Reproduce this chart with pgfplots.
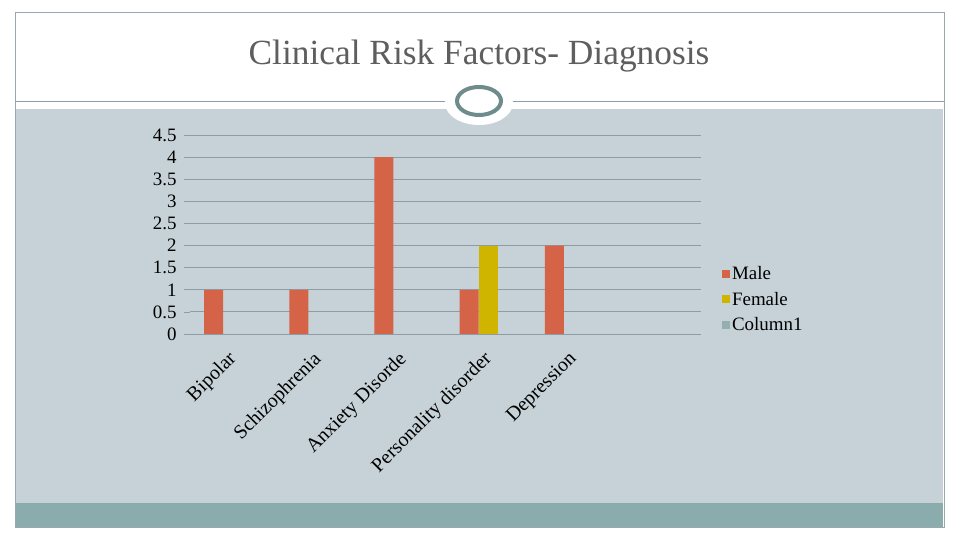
\documentclass[border=0pt]{standalone}
\usepackage{pgfplots}
\pgfplotsset{compat=1.18}
\usepackage{fontspec}
\setmainfont{Liberation Serif}
\definecolor{panel}{HTML}{C6D2D8}
\definecolor{strip}{HTML}{8AACAD}
\definecolor{frame}{HTML}{9AA8AE}
\definecolor{gridc}{HTML}{8E9CA4}
\definecolor{ovalc}{HTML}{6E8C8C}
\definecolor{male}{HTML}{D46348}
\definecolor{female}{HTML}{D0B500}
\definecolor{colone}{HTML}{93AFB0}
\definecolor{titlec}{HTML}{5E5E5E}
\begin{document}
\begin{tikzpicture}[x=1bp,y=1bp]
% slide background
\fill[white] (0,0) rectangle (960,540);
\fill[panel] (16,37) rectangle (943,431);
\fill[strip] (16,13) rectangle (943,37);
\draw[frame,line width=0.8bp] (15,13) rectangle (944,528);
\draw[gridc,line width=0.8bp] (15,439) -- (944,439);
\fill[white] (479,437) ellipse (34bp and 22bp);
\draw[ovalc,line width=4bp] (479,439) ellipse (22bp and 14bp);
\node[font=\fontsize{35.5}{35.5}\selectfont,text=titlec] at (479,484) {Clinical Risk Factors- Diagnosis};

\begin{axis}[
    at={(190bp,206bp)}, anchor=origin,
    scale only axis,
    width=511bp, height=199bp,
    xmin=0, xmax=6,
    ymin=0, ymax=4.5,
    ytick={0,0.5,...,4.5},
    yticklabels={0,0.5,1,1.5,2,2.5,3,3.5,4,4.5},
    xtick={0.5,1.5,2.5,3.5,4.5},
    xticklabels={Bipolar,Schizophrenia,Anxiety Disorde,Personality disorder,Depression},
    extra x ticks={0,1,2,3,4,5,6},
    extra x tick labels={},
    extra x tick style={major tick length=6bp, tick style={gridc}, grid=none},
    major x tick style={draw=none},
    xtick pos=bottom, ytick pos=left,
    tick align=outside,
    major tick length=6bp,
    tick style={gridc, line width=0.7bp},
    ymajorgrids,
    grid style={gridc, line width=0.8bp},
    axis line style={gridc, line width=0.8bp},
    axis x line*=bottom,
    axis y line*=left,
    y axis line style={draw=none},
    xticklabel style={rotate=45, anchor=north east, font=\fontsize{20}{20}\selectfont, inner sep=1bp, xshift=-10bp, yshift=-2bp},
    yticklabel style={font=\fontsize{19}{19}\selectfont, xshift=-4bp},
    ybar,
    bar width=19bp,
    legend style={at={(axis description cs:1.035,0.36)}, anchor=north west, draw=none, fill=none,
        font=\fontsize{19}{19}\selectfont, row sep=7bp, legend cell align=left},
    legend image code/.code={\fill[#1] (-3bp,-4bp) rectangle (5bp,4bp);},
]
\addplot[fill=male, draw=none, bar shift=-19bp] coordinates {(0.5,1) (1.5,1) (2.5,4) (3.5,1) (4.5,2)};
\addplot[fill=female, draw=none, bar shift=0bp] coordinates {(3.5,2)};
\addlegendimage{fill=colone, draw=none}
\legend{Male,Female,Column1}
\end{axis}
\end{tikzpicture}
\end{document}
